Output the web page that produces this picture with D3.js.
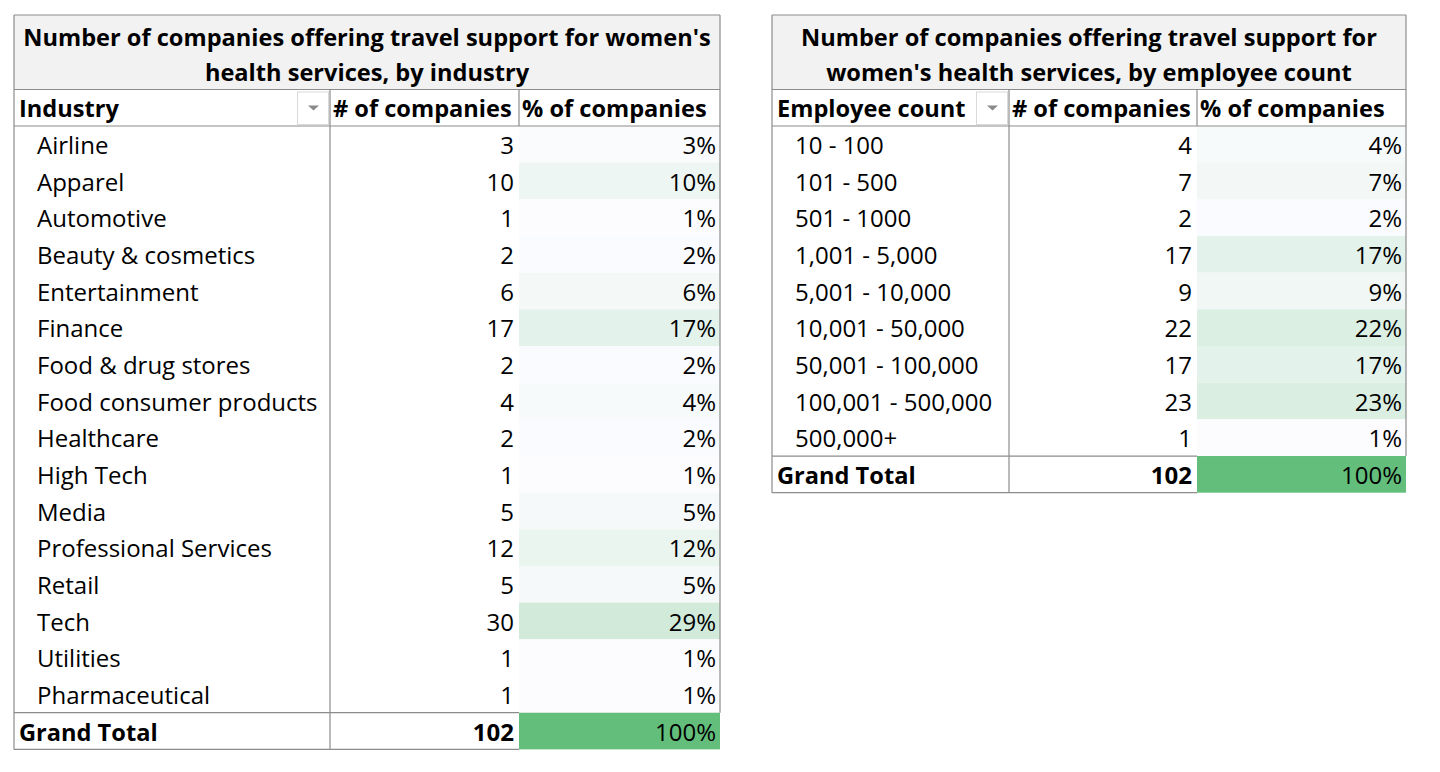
<!DOCTYPE html>
<html>
<head>
<meta charset="utf-8">
<script src="https://cdn.jsdelivr.net/npm/d3@7"></script>
<style>
  body { margin: 0; background: #fff; }
  svg text { font-family: "Open Sans", sans-serif; fill: #000; }
</style>
</head>
<body>
<svg id="chart" width="1440" height="772"></svg>
<script>
// left table: by industry
const industries = ["Airline", "Apparel", "Automotive", "Beauty & cosmetics", "Entertainment", "Finance",
  "Food & drug stores", "Food consumer products", "Healthcare", "High Tech", "Media",
  "Professional Services", "Retail", "Tech", "Utilities", "Pharmaceutical"]
const industryCounts = [3, 10, 1, 2, 6, 17, 2, 4, 2, 1, 5, 12, 5, 30, 1, 1]
const industryPct = [3, 10, 1, 2, 6, 17, 2, 4, 2, 1, 5, 12, 5, 29, 1, 1]

// right table: by employee count
const sizes = ["10 - 100", "101 - 500", "501 - 1000", "1,001 - 5,000", "5,001 - 10,000",
  "10,001 - 50,000", "50,001 - 100,000", "100,001 - 500,000", "500,000+"]
const sizeCounts = [4, 7, 2, 17, 9, 22, 17, 23, 1]
const sizePct = [4, 7, 2, 17, 9, 22, 17, 23, 1]

const totalCount = 102
const totalPct = 100

const svg = d3.select("#chart")
const lineColor = "#8c8c8c"
const fontSize = 24
const titleSize = 23.6

var drawTable = function(opts) {
    const g = svg.append("g")
    const x0 = opts.cols[0], x1 = opts.cols[1], x2 = opts.cols[2], x3 = opts.cols[3]
    const top = 15, titleBottom = 89.5, headBottom = 126, rowH = 36.67

    const rows = opts.labels.map((l, i) => ({label: l, count: opts.counts[i], pct: opts.pct[i], total: false}))
    rows.push({label: "Grand Total", count: totalCount, pct: totalPct, total: true})

    const y = d3.scaleBand()
        .domain(d3.range(rows.length))
        .range([headBottom, headBottom + rowH * rows.length])

    const color = d3.scaleLinear()
        .domain([d3.min(rows, (d) => d.pct), d3.max(rows, (d) => d.pct)])
        .range(["#fcfcff", "#63be7b"])

    // title band
    g.append("rect")
        .attr("x", x0).attr("y", top)
        .attr("width", x3 - x0).attr("height", titleBottom - top)
        .attr("fill", "#f2f2f2")

    g.selectAll("text.title")
        .data(opts.title)
        .join("text")
        .attr("class", "title")
        .attr("x", (x0 + x3) / 2)
        .attr("y", (d, i) => 46 + i * 35)
        .attr("text-anchor", "middle")
        .attr("font-weight", "bold")
        .attr("font-size", titleSize)
        .text((d) => d)

    // % column fills
    g.selectAll("rect.fill")
        .data(rows)
        .join("rect")
        .attr("class", "fill")
        .attr("x", x2).attr("y", (d, i) => y(i))
        .attr("width", x3 - x2).attr("height", y.bandwidth())
        .attr("fill", (d) => color(d.pct))

    const lastY = y(rows.length - 1), bottom = lastY + y.bandwidth()
    const lines = [
        [x0, top, x3, top],
        [x0, titleBottom, x3, titleBottom],
        [x0, headBottom, x3, headBottom],
        [x0, top, x0, bottom],
        [x3, top, x3, lastY],
        [x1, titleBottom, x1, bottom],
        [x2, titleBottom, x2, headBottom],
        [x0, lastY, x2, lastY],
        [x0, bottom, x2, bottom]
    ]
    g.selectAll("line.grid")
        .data(lines)
        .join("line")
        .attr("class", "grid")
        .attr("x1", (d) => d[0]).attr("y1", (d) => d[1])
        .attr("x2", (d) => d[2]).attr("y2", (d) => d[3])
        .attr("stroke", lineColor)
        .attr("stroke-width", 1.2)

    // header
    const headY = (titleBottom + headBottom) / 2 + 9
    g.append("text").attr("x", x0 + 5).attr("y", headY)
        .attr("font-weight", "bold").attr("font-size", titleSize).text(opts.header)
    g.append("text").attr("x", x1 + 3).attr("y", headY)
        .attr("font-weight", "bold").attr("font-size", titleSize).text("# of companies")
    g.append("text").attr("x", x2 + 3).attr("y", headY)
        .attr("font-weight", "bold").attr("font-size", titleSize).text("% of companies")

    // filter dropdown button
    g.append("rect")
        .attr("x", x1 - 32.5).attr("y", titleBottom + 2.5)
        .attr("width", 31).attr("height", headBottom - titleBottom - 4)
        .attr("fill", "#fff").attr("stroke", "#d9d9d9")
    g.append("path")
        .attr("d", `M${x1 - 22},${titleBottom + 16}h11l-5.5,5z`)
        .attr("fill", "#8a8a8a")

    // body rows
    const rowG = g.selectAll("g.row")
        .data(rows)
        .join("g")
        .attr("class", "row")
        .attr("transform", (d, i) => `translate(0,${y(i) + y.bandwidth() / 2 + 9.5})`)

    rowG.append("text")
        .attr("x", (d) => d.total ? x0 + 5 : x0 + 23)
        .attr("font-weight", (d) => d.total ? "bold" : "normal")
        .attr("font-size", (d) => d.total ? titleSize : fontSize)
        .text((d) => d.label)

    rowG.append("text")
        .attr("x", x2 - 5)
        .attr("text-anchor", "end")
        .attr("font-weight", (d) => d.total ? "bold" : "normal")
        .attr("font-size", fontSize)
        .text((d) => d.count)

    rowG.append("text")
        .attr("x", x3 - 4)
        .attr("text-anchor", "end")
        .attr("font-size", fontSize)
        .text((d) => d.pct + "%")
}

drawTable({
    cols: [14, 330, 519, 720],
    title: ["Number of companies offering travel support for women's", "health services, by industry"],
    header: "Industry",
    labels: industries, counts: industryCounts, pct: industryPct
})

drawTable({
    cols: [772, 1009, 1197, 1406],
    title: ["Number of companies offering travel support for", "women's health services, by employee count"],
    header: "Employee count",
    labels: sizes, counts: sizeCounts, pct: sizePct
})
</script>
</body>
</html>
